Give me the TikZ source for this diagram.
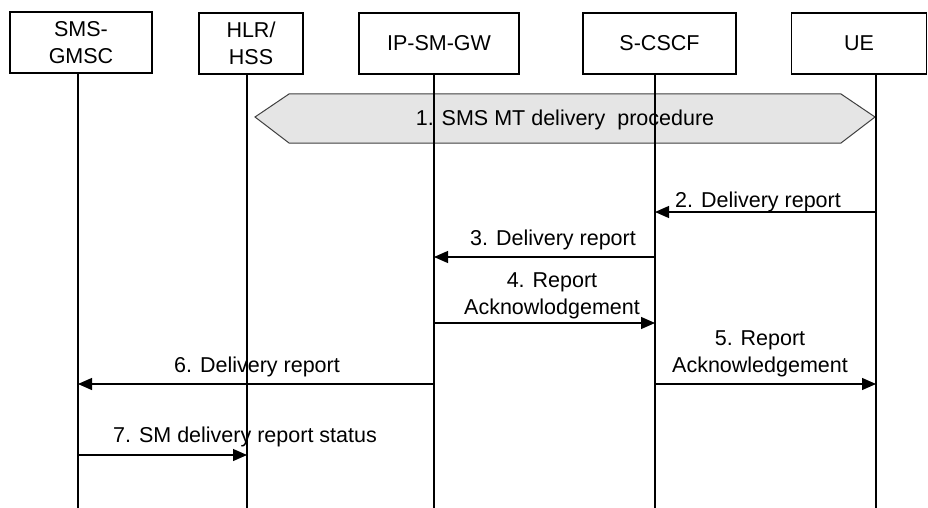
\documentclass[tikz,border=0pt]{standalone}
\usepackage{fontspec}
\setmainfont{Liberation Sans}
\usetikzlibrary{arrows.meta}
\begin{document}
\begin{tikzpicture}[x=1pt,y=-1pt,
  every node/.style={font=\fontsize{21.5}{27}\selectfont},
  entity/.style={draw=black, line width=1.1pt, fill=white, align=center, inner sep=0pt, minimum height=61pt},
  life/.style={line width=1.2pt},
  msg/.style={line width=1.2pt, -{Triangle[length=14pt,width=12pt]}},
  lbl/.style={inner sep=0pt, align=center},
  proc/.style={draw=black!75, line width=1pt, fill=gray!20}
]
\useasboundingbox (0,0) rectangle (928,508);

% entities
\node[entity, minimum width=142pt] (gmsc) at (81,42.5) {SMS-\\GMSC};
\node[entity, minimum width=104pt] (hlr)  at (251,43.5) {HLR/\\HSS};
\node[entity, minimum width=160pt] (ipsm) at (439,43.5) {IP-SM-GW};
\node[entity, minimum width=153pt] (scscf) at (659.5,43.5) {S-CSCF};
\node[entity, minimum width=135pt] (ue)   at (859,43.5) {UE};

% lifeline ends
\coordinate (gmscT) at (78,73);   \coordinate (gmscB) at (78,508);
\coordinate (hlrT)  at (247,74);  \coordinate (hlrB)  at (247,508);
\coordinate (ipsmT) at (434,74);  \coordinate (ipsmB) at (434,508);
\coordinate (scscfT) at (655,74); \coordinate (scscfB) at (655,508);
\coordinate (ueT)   at (876,74);  \coordinate (ueB)   at (876,508);

% procedure hexagon (behind lifelines)
\fill[gray!20] (255,117) -- (289,94) -- (841,94) -- (875,117) -- (841,143) -- (289,143) -- cycle;
\draw[proc, fill=none] (255,117) -- (289,94) -- (841,94) -- (875,117) -- (841,143) -- (289,143) -- cycle;

\foreach \n in {gmsc,hlr,ipsm,scscf,ue} {
  \draw[life] (\n T) -- (\n B);
}

\node[lbl, anchor=base] (p1) at (565,125) {1. SMS MT delivery\ \ procedure};

% message end points
\coordinate (m2a) at (876,212); \coordinate (m2b) at (655,212);
\coordinate (m3a) at (655,257); \coordinate (m3b) at (434,257);
\coordinate (m4a) at (434,323); \coordinate (m4b) at (655,323);
\coordinate (m5a) at (655,384); \coordinate (m5b) at (876,384);
\coordinate (m6a) at (434,384); \coordinate (m6b) at (78,384);
\coordinate (m7a) at (78,455);  \coordinate (m7b) at (247,455);

\draw[msg] (m2a) -- (m2b);
\draw[msg] (m3a) -- (m3b);
\draw[msg] (m4a) -- (m4b);
\draw[msg] (m5a) -- (m5b);
\draw[msg] (m6a) -- (m6b);
\draw[msg] (m7a) -- (m7b);

% labels
\node[lbl, anchor=base] (t2) at (758,207) {2. Delivery report};
\node[lbl, anchor=base] (t3) at (553,245) {3. Delivery report};
\node[lbl, anchor=south] (t4) at (552,319.5) {4. Report\\Acknowlodgement};
\node[lbl, anchor=south] (t5) at (760,377.5) {5. Report\\Acknowledgement};
\node[lbl, anchor=base] (t6) at (257,372) {6. Delivery report};
\node[lbl, anchor=base] (t7) at (245,442) {7. SM delivery report status};
\end{tikzpicture}
\end{document}
